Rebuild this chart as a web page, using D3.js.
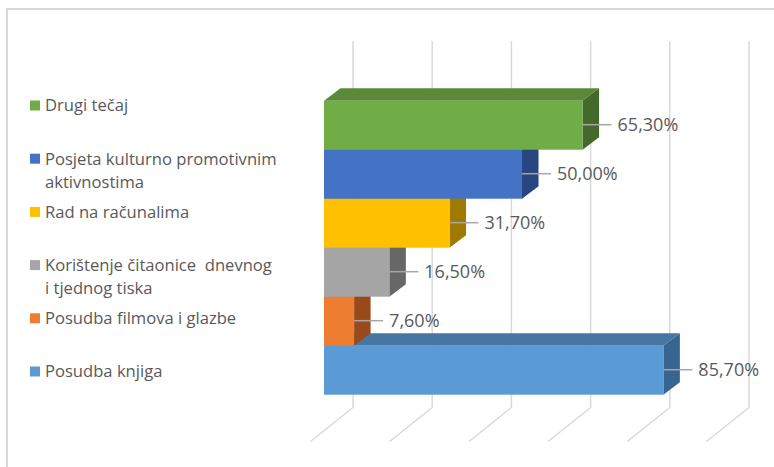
<!DOCTYPE html>
<html>
<head>
<meta charset="utf-8">
<script src="https://cdn.jsdelivr.net/npm/d3@7"></script>
<style>
  body { margin: 0; background: #fff; }
  text { font-family: "Open Sans", Lato, sans-serif; white-space: pre; }
</style>
</head>
<body>
<div id="chart"></div>
<script>
  // categories, top to bottom as shown
  var categories = [
    'Drugi tečaj',
    'Posjeta kulturno promotivnim\naktivnostima',
    'Rad na računalima',
    'Korištenje čitaonice  dnevnog\ni tjednog tiska',
    'Posudba filmova i glazbe',
    'Posudba knjiga'
  ];
  var values = [65.3, 50.0, 31.7, 16.5, 7.6, 85.7];
  var labels = ['65,30%', '50,00%', '31,70%', '16,50%', '7,60%', '85,70%'];
  var ticks = [0, 20, 40, 60, 80, 100];

  var fronts = ['#70ad47', '#4472c4', '#ffc000', '#a5a5a5', '#ed7d31', '#5b9bd5'];
  var tops   = ['#5a8a38', '#34599c', '#c79600', '#808080', '#b85f22', '#4677a3'];
  var sides  = ['#45692b', '#284680', '#a07a00', '#676767', '#994a1b', '#386490'];

  var width = 774, height = 467;
  var depth = { dx: 16.5, dy: -12.5 };     // bar depth
  var wall = { dx: 29, dy: -23 };          // front of bar -> back wall
  var floor = { dx: -42.5, dy: 34 };       // back wall -> front of floor

  var svg = d3.select('#chart')
    .append('svg')
    .attr('width', width)
    .attr('height', height);

  // outer frame
  svg.append('rect')
    .attr('x', 7).attr('y', 9)
    .attr('width', 800).attr('height', 500)
    .attr('fill', 'none')
    .attr('stroke', '#d9d9d9')
    .attr('stroke-width', 2);

  var x = d3.scaleLinear().domain([0, 100]).range([324, 720]);
  var y = d3.scaleBand().domain(categories).range([100.7, 394.7]).padding(0);

  // gridlines on the back wall and floor
  var gridTop = 41, gridBottom = 407.5;
  var grid = svg.append('g');
  ticks.forEach(function(t) {
    var gx = x(t) + wall.dx;
    grid.append('path')
      .attr('d', d3.line()([[gx, gridTop], [gx, gridBottom], [gx + floor.dx, gridBottom + floor.dy]]))
      .attr('fill', 'none')
      .attr('stroke', '#d9d9d9')
      .attr('stroke-width', 1.5);
  });

  // bars, drawn bottom first so upper bars cover lower tops
  var bars = svg.append('g');
  d3.range(categories.length).reverse().forEach(function(i) {
    var c = categories[i],
        x0 = x(0), x1 = x(values[i]),
        y0 = y(c), y1 = y(c) + y.bandwidth();
    var g = bars.append('g');
    g.append('polygon')
      .attr('points', [[x0, y0], [x1, y0], [x1 + depth.dx, y0 + depth.dy], [x0 + depth.dx, y0 + depth.dy]].join(' '))
      .attr('fill', tops[i]);
    g.append('polygon')
      .attr('points', [[x1, y0], [x1 + depth.dx, y0 + depth.dy], [x1 + depth.dx, y1 + depth.dy], [x1, y1]].join(' '))
      .attr('fill', sides[i]);
    g.append('rect')
      .attr('x', x0).attr('y', y0)
      .attr('width', x1 - x0).attr('height', y1 - y0)
      .attr('fill', fronts[i]);
  });

  // data labels with leader lines
  var lab = svg.append('g');
  categories.forEach(function(c, i) {
    var xv = x(values[i]), yc = y(c) + y.bandwidth() / 2 - 0.5;
    lab.append('line')
      .attr('x1', xv).attr('y1', yc)
      .attr('x2', xv + 29).attr('y2', yc)
      .attr('stroke', '#a6a6a6')
      .attr('stroke-width', 1.5);
    lab.append('text')
      .attr('x', xv + 35).attr('y', yc)
      .attr('dy', '0.36em')
      .attr('font-size', '18px')
      .attr('fill', '#595959')
      .text(labels[i]);
  });

  // legend
  var legend = svg.append('g');
  categories.forEach(function(c, i) {
    var ly = 105.5 + i * 53.2;
    legend.append('rect')
      .attr('x', 30).attr('y', ly - 5)
      .attr('width', 10).attr('height', 10)
      .attr('fill', fronts[i]);
    var t = legend.append('text')
      .attr('x', 45).attr('y', ly)
      .attr('font-size', '16.6px')
      .attr('fill', '#595959');
    c.split('\n').forEach(function(line, k) {
      t.append('tspan')
        .attr('x', 45)
        .attr('dy', k === 0 ? '0.36em' : '23px')
        .text(line);
    });
  });
</script>
</body>
</html>
